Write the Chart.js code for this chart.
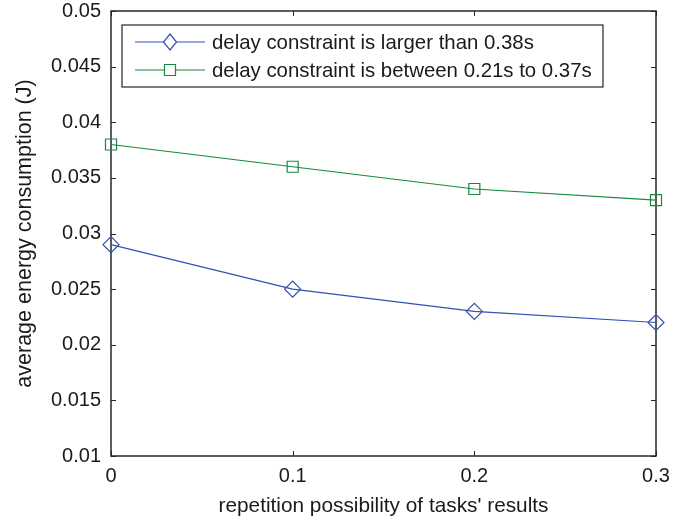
<!DOCTYPE html>
<html>
<head>
<meta charset="utf-8">
<script src="https://cdn.jsdelivr.net/npm/chart.js@4/dist/chart.umd.min.js"></script>
<style>
  html, body { margin: 0; padding: 0; background: #fff; }
  #wrap { width: 693px; height: 524px; }
</style>
</head>
<body>
<div id="wrap"><canvas id="myChart" width="693" height="524"></canvas></div>
<script>
const repetition = [0, 0.1, 0.2, 0.3]
const largerDelay = [0.029, 0.025, 0.023, 0.022]
const betweenDelay = [0.038, 0.036, 0.034, 0.033]
const yTicks = [0.01, 0.015, 0.02, 0.025, 0.03, 0.035, 0.04, 0.045, 0.05]
const xTicks = [0, 0.1, 0.2, 0.3]
const seriesNames = ['delay constraint is larger than 0.38s', 'delay constraint is between 0.21s to 0.37s']

const blue = '#3050b4'
const green = '#17893e'
const axisColor = '#262626'
const font = "'Liberation Sans', Arial, sans-serif"

// box, inward ticks and the legend, MATLAB style
const matlabBox = {
  id: 'matlabBox',
  beforeDatasetsDraw(chart) {
    const ctx = chart.ctx
    const a = chart.chartArea
    const xs = chart.scales.x
    const ys = chart.scales.y
    ctx.save()
    ctx.strokeStyle = axisColor
    ctx.lineWidth = 1.5
    ctx.strokeRect(a.left, a.top, a.right - a.left, a.bottom - a.top)
    ctx.lineWidth = 1
    xTicks.forEach(v => {
      const px = Math.round(xs.getPixelForValue(v)) + 0.5
      ctx.beginPath()
      ctx.moveTo(px, a.bottom); ctx.lineTo(px, a.bottom - 5)
      ctx.moveTo(px, a.top); ctx.lineTo(px, a.top + 5)
      ctx.stroke()
    })
    yTicks.forEach(v => {
      const py = Math.round(ys.getPixelForValue(v)) + 0.5
      ctx.beginPath()
      ctx.moveTo(a.left, py); ctx.lineTo(a.left + 5, py)
      ctx.moveTo(a.right, py); ctx.lineTo(a.right - 5, py)
      ctx.stroke()
    })
    ctx.restore()
  },
  afterDatasetsDraw(chart) {
    const ctx = chart.ctx
    ctx.save()
    // legend
    const lx = 122, ly = 25, lw = 481, lh = 62
    ctx.fillStyle = '#fff'
    ctx.fillRect(lx, ly, lw, lh)
    ctx.strokeStyle = axisColor
    ctx.lineWidth = 1.2
    ctx.strokeRect(lx, ly, lw, lh)
    const rows = [
      { y: ly + 17, color: blue, marker: 'diamond' },
      { y: ly + 45, color: green, marker: 'square' }
    ]
    ctx.font = '20.4px ' + font
    ctx.textBaseline = 'middle'
    rows.forEach((r, i) => {
      ctx.strokeStyle = r.color
      ctx.lineWidth = 1.2
      ctx.beginPath()
      ctx.moveTo(lx + 13, r.y); ctx.lineTo(lx + 83, r.y)
      ctx.stroke()
      const cx = lx + 48
      ctx.fillStyle = '#fff'
      ctx.beginPath()
      if (r.marker === 'diamond') {
        ctx.moveTo(cx, r.y - 8); ctx.lineTo(cx + 6.5, r.y)
        ctx.lineTo(cx, r.y + 8); ctx.lineTo(cx - 6.5, r.y)
        ctx.closePath()
      } else {
        ctx.rect(cx - 5.5, r.y - 5.5, 11, 11)
      }
      ctx.fill()
      ctx.stroke()
      ctx.fillStyle = '#1a1a1a'
      ctx.textAlign = 'left'
      ctx.fillText(seriesNames[i], lx + 90, r.y + 1)
    })
    ctx.restore()
  }
}

const ctx = document.getElementById('myChart').getContext('2d')

const myChart = new Chart(ctx, {
  type: 'line',
  data: {
    datasets: [{
      label: seriesNames[0],
      data: repetition.map((x, i) => ({ x: x, y: largerDelay[i] })),
      borderColor: blue,
      borderWidth: 1.2,
      pointStyle: 'rectRot',
      pointRadius: 8,
      pointBorderColor: blue,
      pointBackgroundColor: 'rgba(0,0,0,0)',
      pointBorderWidth: 1.2,
      tension: 0,
      clip: false
    }, {
      label: seriesNames[1],
      data: repetition.map((x, i) => ({ x: x, y: betweenDelay[i] })),
      borderColor: green,
      borderWidth: 1.2,
      pointStyle: 'rect',
      pointRadius: 7.8,
      pointBorderColor: green,
      pointBackgroundColor: 'rgba(0,0,0,0)',
      pointBorderWidth: 1.2,
      tension: 0,
      clip: false
    }]
  },
  options: {
    responsive: false,
    animation: false,
    layout: { padding: { left: 0, top: 11, right: 37, bottom: 0 } },
    plugins: {
      legend: { display: false },
      tooltip: { enabled: false }
    },
    scales: {
      x: {
        type: 'linear',
        min: 0,
        max: 0.3,
        afterBuildTicks: s => { s.ticks = xTicks.map(v => ({ value: v })) },
        afterFit: s => { s.height = 68; s.paddingLeft = 0; s.paddingRight = 0 },
        grid: { display: false, drawTicks: false },
        border: { display: false },
        ticks: {
          color: '#1a1a1a',
          font: { family: font, size: 20 },
          padding: 8,
          maxRotation: 0,
          callback: v => String(Math.round(v * 10) / 10)
        },
        title: {
          display: true,
          text: "repetition possibility of tasks' results",
          color: '#1a1a1a',
          font: { family: font, size: 20.8 },
          padding: { top: 10, bottom: 5 }
        }
      },
      y: {
        min: 0.01,
        max: 0.05,
        afterBuildTicks: s => { s.ticks = yTicks.map(v => ({ value: v })) },
        afterFit: s => { s.width = 111; s.paddingTop = 0; s.paddingBottom = 0 },
        grid: { display: false, drawTicks: false },
        border: { display: false },
        ticks: {
          color: '#1a1a1a',
          font: { family: font, size: 20 },
          padding: 10,
          callback: v => String(Math.round(v * 1000) / 1000)
        },
        title: {
          display: true,
          text: 'average energy consumption (J)',
          color: '#1a1a1a',
          font: { family: font, size: 21.5 },
          padding: { top: 12.5, bottom: 8 }
        }
      }
    }
  },
  plugins: [matlabBox]
})
</script>
</body>
</html>
